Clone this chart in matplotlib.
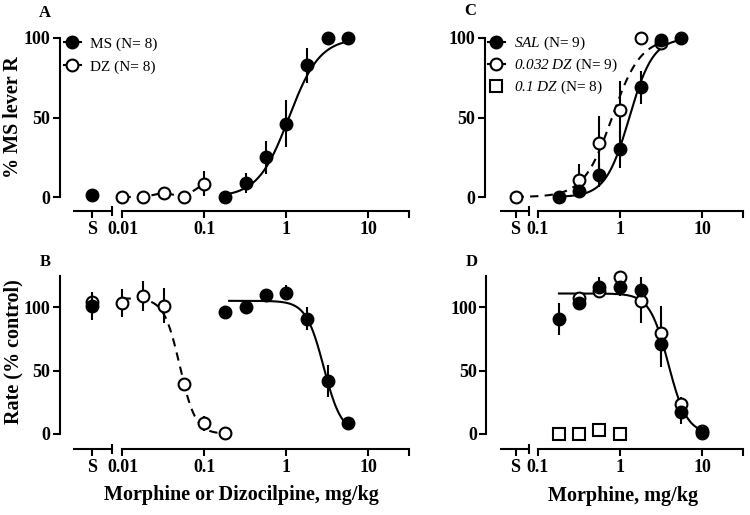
import numpy as np
import matplotlib
matplotlib.use('Agg')
import matplotlib.pyplot as plt
from matplotlib.lines import Line2D
from matplotlib.ticker import FixedLocator, NullFormatter
import matplotlib.transforms as mtransforms

plt.rcParams['font.family'] = ['Liberation Serif', 'DejaVu Serif']
plt.rcParams['mathtext.fontset'] = 'custom'
plt.rcParams['mathtext.rm'] = 'Liberation Serif'
plt.rcParams['mathtext.it'] = 'Liberation Serif:italic'
plt.rcParams['mathtext.sf'] = 'Liberation Serif:italic'

# ---------------- data ----------------
# Panel A: discrimination, MS (morphine) and DZ (dizocilpine)
a_ms_x = [0.18, 0.32, 0.56, 1.0, 1.8, 3.2, 5.6]
a_ms_y = [0, 8.8, 25, 46, 83, 100, 100]
a_ms_e = [0, 6, 10.5, 14.7, 11, 0, 0]
a_ms_s, a_ms_s_e = 1.0, 0
a_dz_x = [0.01, 0.018, 0.032, 0.056, 0.1]
a_dz_y = [0, 0, 2.7, 0, 8.4]
a_dz_e = [0, 0, 0, 0, 8]
a_ms_fit = dict(bottom=0, top=100, ed50=1.07, n=2.3, lo=0.18, hi=5.6)

# Panel B: rate
b_ms_x = [0.18, 0.32, 0.56, 1.0, 1.8, 3.2, 5.6]
b_ms_y = [96.3, 100.3, 110, 111.3, 91, 42, 8.4]
b_ms_e = [0, 0, 0, 6, 9, 12.5, 5]
b_ms_s, b_ms_s_e = 101, 11
b_dz_x = [0.01, 0.018, 0.032, 0.056, 0.1, 0.18]
b_dz_y = [103.4, 109, 101.3, 39.6, 8.4, 0.5]
b_dz_e = [11, 12, 14, 3, 6, 0]
b_dz_s, b_dz_s_e = 104, 0
b_ms_fit = dict(bottom=0, top=105, ed50=2.85, n=-4.0, lo=0.2, hi=5.6)
b_dz_fit = dict(bottom=0, top=107, ed50=0.05, n=-4.5, lo=0.01, hi=0.18)

# Panel C: morphine discrimination after SAL / DZ pretreatment
c_sal_x = [0.18, 0.32, 0.56, 1.0, 1.8, 3.2, 5.6]
c_sal_y = [0, 4, 14, 30, 69, 99, 100]
c_sal_e = [0, 3, 8, 11.5, 10.5, 0, 0]
c_dz_x = [0.32, 0.56, 1.0, 1.8, 3.2]
c_dz_y = [11, 33.7, 55, 100, 97]
c_dz_e = [10, 17, 18, 0, 0]
c_dz_s = 0
c_sal_fit = dict(bottom=0, top=100, ed50=1.3, n=3.0, lo=0.18, hi=5.6)
c_dz_fit = dict(bottom=0, top=100, ed50=0.8, n=2.5, lo=None, hi=3.2)

# Panel D: rate after SAL / DZ pretreatment
d_sal_x = [0.18, 0.32, 0.56, 1.0, 1.8, 3.2, 5.6, 10]
d_sal_y = [90.8, 103.4, 116, 116, 113.5, 71, 17, 0.5]
d_sal_e = [12.5, 3, 8, 7, 10, 18, 9, 0]
d_dz_x = [0.32, 0.56, 1.0, 1.8, 3.2, 5.6, 10]
d_dz_y = [107.4, 112.7, 123.7, 104.7, 80, 23.5, 2.6]
d_dz_e = [2, 5, 0, 17, 21, 6, 0]
d_dz1_x = [0.18, 0.32, 0.56, 1.0]
d_dz1_y = [0, 0, 3, 0]
d_fit = dict(bottom=0, top=110.8, ed50=3.88, n=-3.82, lo=0.18, hi=10)

# ---------------- layout helpers ----------------
W, H = 750, 515
fig = plt.figure(figsize=(W / 100, H / 100), dpi=100)

LW = 1.5
MS = 8.5
DEC = 82.0  # px per decade
LBL = 14.5


def hill(p, x):
    return p['bottom'] + (p['top'] - p['bottom']) / (1 + (p['ed50'] / x) ** p['n'])


def make_axes(left_px, y_axis_px_bottom, y_top_px, ymin, ymax, log_at_left, log_right):
    right_px = left_px + (log_right - log_at_left) * DEC
    ax = fig.add_axes([left_px / W, 1 - y_axis_px_bottom / H,
                       (right_px - left_px) / W, (y_axis_px_bottom - y_top_px) / H])
    ax.set_xscale('log')
    ax.set_xlim(10 ** log_at_left, 10 ** log_right)
    ax.set_ylim(ymin, ymax)
    ax.patch.set_alpha(0)
    for s in ['top', 'right']:
        ax.spines[s].set_visible(False)
    ax.spines['left'].set_linewidth(LW)
    ax.spines['bottom'].set_linewidth(LW)
    ax.tick_params(axis='both', which='major', direction='out', width=LW, length=5,
                   labelsize=13, pad=2)
    return ax


def setup_x(ax, s_pos, seg_l, seg_r, main_lo, main_hi, ticks, labels):
    ax.spines['bottom'].set_bounds(main_lo, main_hi)
    tr = mtransforms.blended_transform_factory(ax.transData, ax.transAxes)
    ax.plot([seg_l, seg_r], [0, 0], transform=tr, color='k', lw=LW,
            clip_on=False, solid_capstyle='butt')
    ax.xaxis.set_major_locator(FixedLocator([s_pos] + ticks + [main_hi]))
    ax.set_xticklabels(['S'] + labels + [''], fontweight='bold', fontsize=13)
    ax.xaxis.set_minor_locator(FixedLocator([seg_r, main_lo]))
    ax.xaxis.set_minor_formatter(NullFormatter())
    ax.tick_params(axis='x', which='minor', direction='inout', length=7, width=LW)


def setup_y(ax, top):
    ax.spines['left'].set_bounds(0, top)
    ax.set_yticks([0, 50, 100])
    ax.set_yticklabels(['0', '50', '100'], fontweight='bold', fontsize=13)


def pts(ax, x, y, e, filled, marker='o', z=4):
    ax.errorbar(x, y, yerr=e, fmt='none', ecolor='k', elinewidth=LW, capsize=0,
                zorder=z - 1, clip_on=False)
    ax.plot(x, y, linestyle='none', marker=marker, ms=MS if marker == 'o' else 9,
            mfc='k' if filled else 'white', mec='k', mew=LW, zorder=z, clip_on=False)


def curve(ax, p, lo, ls='-'):
    xs = np.logspace(np.log10(lo), np.log10(p['hi']), 200)
    if ls == '--':
        ax.plot(xs, hill(p, xs), color='k', lw=LW, dashes=(4, 3), zorder=2, clip_on=False)
    else:
        ax.plot(xs, hill(p, xs), color='k', lw=LW, zorder=2, clip_on=False)


# log-axis positions of the saline "S" segment
LA = -2.762; LA_S = -2.366; LA_SL = -2.604; LA_SR = -2.128
LC = -1.646; LC_S = -1.274; LC_SL = -1.463; LC_SR = -1.11
LD = -1.628
LR = 1.5

# ---------------- Panel A ----------------
axA = make_axes(60, 211, 38, -8.8, 100, LA, LR)
setup_x(axA, 10 ** LA_S, 10 ** LA_SL, 10 ** LA_SR, 0.01, 10 ** LR,
        [0.01, 0.1, 1, 10], ['0.01', '0.1', '1', '10'])
setup_y(axA, 100)
curve(axA, a_ms_fit, a_ms_fit['lo'])
axA.plot(a_dz_x, a_dz_y, color='k', lw=LW, dashes=(4, 3), zorder=2)
pts(axA, a_dz_x, a_dz_y, a_dz_e, False)
pts(axA, a_ms_x, a_ms_y, a_ms_e, True)
pts(axA, [10 ** LA_S], [a_ms_s], [a_ms_s_e], True)
hA = [Line2D([], [], color='k', lw=LW, marker='o', ms=MS, mfc='k', mec='k', mew=LW),
      Line2D([], [], color='k', lw=LW, marker='o', ms=MS, mfc='white', mec='k', mew=LW)]
axA.legend(hA, ['MS (N= 8)', 'DZ (N= 8)'], loc='upper left',
           bbox_to_anchor=(64 / W, 1 - 37 / H), bbox_transform=fig.transFigure,
           frameon=False, fontsize=11, handlelength=1.1, handletextpad=0.6,
           labelspacing=0.6, borderpad=0, borderaxespad=0)

# ---------------- Panel B ----------------
axB = make_axes(60, 449, 275.5, -11.9, 125, LA, LR)
setup_x(axB, 10 ** LA_S, 10 ** LA_SL, 10 ** LA_SR, 0.01, 10 ** LR,
        [0.01, 0.1, 1, 10], ['0.01', '0.1', '1', '10'])
setup_y(axB, 125)
curve(axB, b_ms_fit, b_ms_fit['lo'])
curve(axB, b_dz_fit, b_dz_fit['lo'], ls='--')
pts(axB, b_dz_x, b_dz_y, b_dz_e, False)
pts(axB, [10 ** LA_S], [b_dz_s], [b_dz_s_e], False)
pts(axB, b_ms_x, b_ms_y, b_ms_e, True)
pts(axB, [10 ** LA_S], [b_ms_s], [b_ms_s_e], True, z=6)

# ---------------- Panel C ----------------
axC = make_axes(485, 211, 38, -8.8, 100, LC, LR)
setup_x(axC, 10 ** LC_S, 10 ** LC_SL, 10 ** LC_SR, 0.1, 10 ** LR,
        [0.1, 1, 10], ['0.1', '1', '10'])
setup_y(axC, 100)
curve(axC, c_sal_fit, c_sal_fit['lo'])
curve(axC, c_dz_fit, 10 ** LC_S, ls='--')
pts(axC, c_dz_x, c_dz_y, c_dz_e, False)
pts(axC, [10 ** LC_S], [c_dz_s], [0], False)
pts(axC, c_sal_x, c_sal_y, c_sal_e, True)
hC = [Line2D([], [], color='k', lw=LW, marker='o', ms=MS, mfc='k', mec='k', mew=LW),
      Line2D([], [], color='k', lw=LW, marker='o', ms=MS, mfc='white', mec='k', mew=LW),
      Line2D([], [], color='none', lw=0, marker='s', ms=9, mfc='white', mec='k', mew=LW)]
axC.legend(hC, [r'$\mathsf{SAL}$ (N= 9)', r'$\mathsf{0.032\ DZ}$ (N= 9)',
                r'$\mathsf{0.1\ DZ}$ (N= 8)'], loc='upper left',
           bbox_to_anchor=(488 / W, 1 - 35 / H), bbox_transform=fig.transFigure,
           frameon=False, fontsize=11, handlelength=1.1, handletextpad=0.6,
           labelspacing=0.3, borderpad=0, borderaxespad=0)

# ---------------- Panel D ----------------
axD = make_axes(486.5, 449, 275.5, -11.9, 125, LD, LR)
setup_x(axD, 10 ** LC_S, 10 ** LC_SL, 10 ** LC_SR, 0.1, 10 ** LR,
        [0.1, 1, 10], ['0.1', '1', '10'])
setup_y(axD, 125)
curve(axD, d_fit, d_fit['lo'])
pts(axD, d_dz_x, d_dz_y, d_dz_e, False)
pts(axD, d_sal_x, d_sal_y, d_sal_e, True)
pts(axD, d_dz1_x, d_dz1_y, [0] * len(d_dz1_x), False, marker='s')

# axis titles
fig.text(13 / W, 1 - 117 / H, '% MS lever R', rotation=90, fontsize=LBL,
         fontweight='bold', ha='center', va='center')
fig.text(13 / W, 1 - 352 / H, 'Rate (% control)', rotation=90, fontsize=LBL,
         fontweight='bold', ha='center', va='center')
fig.text(241 / W, 1 - 495 / H, 'Morphine or Dizocilpine, mg/kg', fontsize=LBL,
         fontweight='bold', ha='center', va='center')
fig.text(623 / W, 1 - 496 / H, 'Morphine, mg/kg', fontsize=LBL,
         fontweight='bold', ha='center', va='center')

# panel letters
for lt, (px, py) in zip('ABCD', [(45, 13), (45, 262), (470, 11), (472, 262)]):
    fig.text(px / W, 1 - py / H, lt, fontsize=12, fontweight='bold',
             ha='center', va='center')

fig.savefig('out.png', dpi=100)
